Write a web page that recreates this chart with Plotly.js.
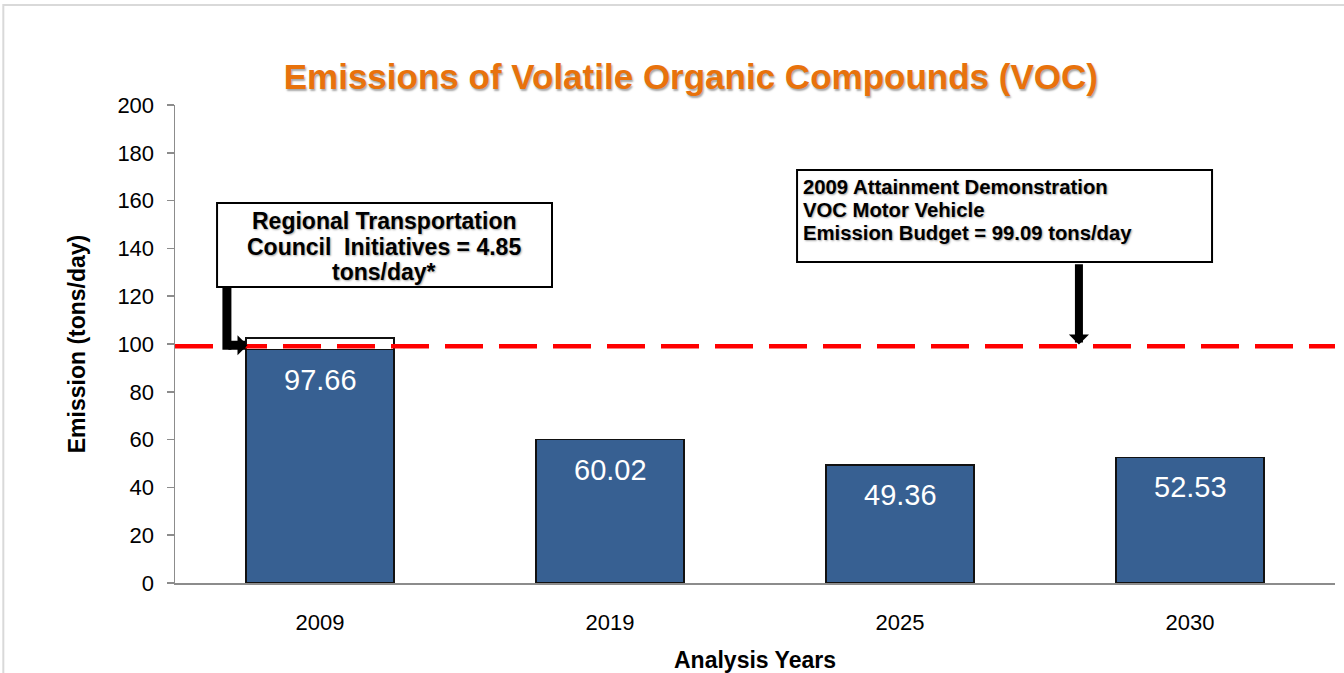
<!DOCTYPE html>
<html>
<head>
<meta charset="utf-8">
<script src="https://cdn.plot.ly/plotly-3.0.1.min.js"></script>
<style>
  html, body { margin: 0; padding: 0; background: #ffffff; }
  #chart { width: 1344px; height: 673px; }
</style>
</head>
<body>
<div id="chart"></div>
<script>
// ---- data ----
const years = ['2009', '2019', '2025', '2030'];
const emissions = [97.66, 60.02, 49.36, 52.53];
const initiativeYears = ['2009'];
const initiatives = [4.85];
const budget = 99.09;
const yTicks = [0, 20, 40, 60, 80, 100, 120, 140, 160, 180, 200];
const titleText = 'Emissions of Volatile Organic Compounds (VOC)';
const rtcLines = ['Regional Transportation', 'Council  Initiatives = 4.85', 'tons/day*'];
const budgetLines = ['2009 Attainment Demonstration', 'VOC Motor Vehicle', 'Emission Budget = 99.09 tons/day'];

const FONT = 'Arial, "Liberation Sans", sans-serif';
const SHADOW = '1px 1px 2px rgba(0,0,0,0.35)';

const traces = [
  {
    type: 'bar',
    x: years,
    y: emissions,
    width: 0.51,
    marker: { color: '#376092', line: { color: '#111111', width: 1.5 } },
    hoverinfo: 'x+y',
    showlegend: false
  },
  {
    type: 'bar',
    x: initiativeYears,
    y: initiatives,
    width: 0.51,
    marker: { color: '#ffffff', line: { color: '#111111', width: 1.5 } },
    hoverinfo: 'x+y',
    showlegend: false
  }
];

const annotations = [];
// value labels inside bars (category index positions)
years.forEach((yr, i) => {
  annotations.push({
    x: i, y: emissions[i], xref: 'x', yref: 'y',
    text: emissions[i].toFixed(2),
    showarrow: false, yanchor: 'middle', xanchor: 'center', yshift: -30,
    font: { family: FONT, size: 29, color: '#ffffff' }
  });
});
// RTC text lines (centered)
const rtcY = [151.5, 140.6, 130.1];
rtcLines.forEach((t, i) => {
  annotations.push({
    x: 0.222, y: rtcY[i], xref: 'x', yref: 'y',
    text: '<b>' + t + '</b>', showarrow: false,
    xanchor: 'center', yanchor: 'middle',
    font: { family: FONT, size: 23, color: '#000000', shadow: SHADOW }
  });
});
// budget text lines (left)
const budY = [165.7, 156.1, 146.4];
budgetLines.forEach((t, i) => {
  annotations.push({
    x: 1.659, y: budY[i], xref: 'x', yref: 'y',
    text: '<b>' + t + '</b>', showarrow: false,
    xanchor: 'left', yanchor: 'middle',
    font: { family: FONT, size: 20.3, color: '#000000', shadow: SHADOW }
  });
});
// arrows
annotations.push({
  x: -0.25, y: 99.5, xref: 'x', yref: 'y',
  ax: -0.321, ay: 99.5, axref: 'x', ayref: 'y',
  text: '', showarrow: true, arrowhead: 1, arrowsize: 0.37, arrowwidth: 9,
  arrowcolor: '#000000', standoff: 0, startstandoff: 0
});
annotations.push({
  x: 2.617, y: 99.8, xref: 'x', yref: 'y',
  ax: 2.617, ay: 134.0, axref: 'x', ayref: 'y',
  text: '', showarrow: true, arrowhead: 1, arrowsize: 0.42, arrowwidth: 8,
  arrowcolor: '#000000', standoff: 0, startstandoff: 0
});

const shapes = [
  // outer light frame
  { type: 'rect', xref: 'paper', yref: 'paper', x0: -0.148, x1: 1.1, y0: -0.3, y1: 1.209,
    line: { color: '#d9d9d9', width: 2 }, fillcolor: 'rgba(0,0,0,0)', layer: 'below' },
  // budget line
  { type: 'line', xref: 'paper', yref: 'y', x0: 0, x1: 1, y0: budget, y1: budget,
    line: { color: '#ff0000', width: 4.5, dash: '38px,16px' } },
  // RTC box
  { type: 'rect', xref: 'x', yref: 'y', x0: -0.355, x1: 0.8, y0: 123.85, y1: 159.0,
    line: { color: '#000000', width: 2 }, fillcolor: '#ffffff' },
  // budget box
  { type: 'rect', xref: 'x', yref: 'y', x0: 1.645, x1: 3.076, y0: 134.3, y1: 172.8,
    line: { color: '#000000', width: 2 }, fillcolor: '#ffffff' },
  // elbow arrow vertical part
  { type: 'line', xref: 'x', yref: 'y', x0: -0.321, x1: -0.321, y0: 123.85, y1: 97.6,
    line: { color: '#000000', width: 9 } }
];

const layout = {
  width: 1344, height: 673,
  margin: { l: 175, r: 9, t: 105, b: 90 },
  paper_bgcolor: '#ffffff', plot_bgcolor: '#ffffff',
  barmode: 'stack',
  showlegend: false,
  title: {
    text: '<b>' + titleText + '</b>',
    x: 0.514, xref: 'container', xanchor: 'center',
    y: 0.886, yref: 'container', yanchor: 'middle',
    font: { family: FONT, size: 35, color: '#E8720C', shadow: '1px 2px 2px rgba(0,0,0,0.35)' }
  },
  xaxis: {
    type: 'category', categoryorder: 'array', categoryarray: years,
    range: [-0.5, 3.5],
    showline: true, linecolor: '#8c8c8c', linewidth: 1.5,
    ticks: '', showgrid: false, zeroline: false,
    ticklabelstandoff: 19,
    tickfont: { family: FONT, size: 22, color: '#000000' },
    title: { text: '<b>Analysis Years</b>', standoff: 19,
      font: { family: FONT, size: 23, color: '#000000' } }
  },
  yaxis: {
    range: [0, 200], tickvals: yTicks,
    showline: true, linecolor: '#8c8c8c', linewidth: 1.5,
    ticks: 'outside', ticklen: 7, tickcolor: '#8c8c8c', tickwidth: 1.5,
    showgrid: false, zeroline: false,
    ticklabelstandoff: 8,
    tickfont: { family: FONT, size: 22, color: '#000000' },
    title: { text: '<b>Emission (tons/day)</b>', standoff: 25,
      font: { family: FONT, size: 23, color: '#000000' } }
  },
  shapes: shapes,
  annotations: annotations
};

Plotly.newPlot('chart', traces, layout, { displayModeBar: false, staticPlot: true });
</script>
</body>
</html>
